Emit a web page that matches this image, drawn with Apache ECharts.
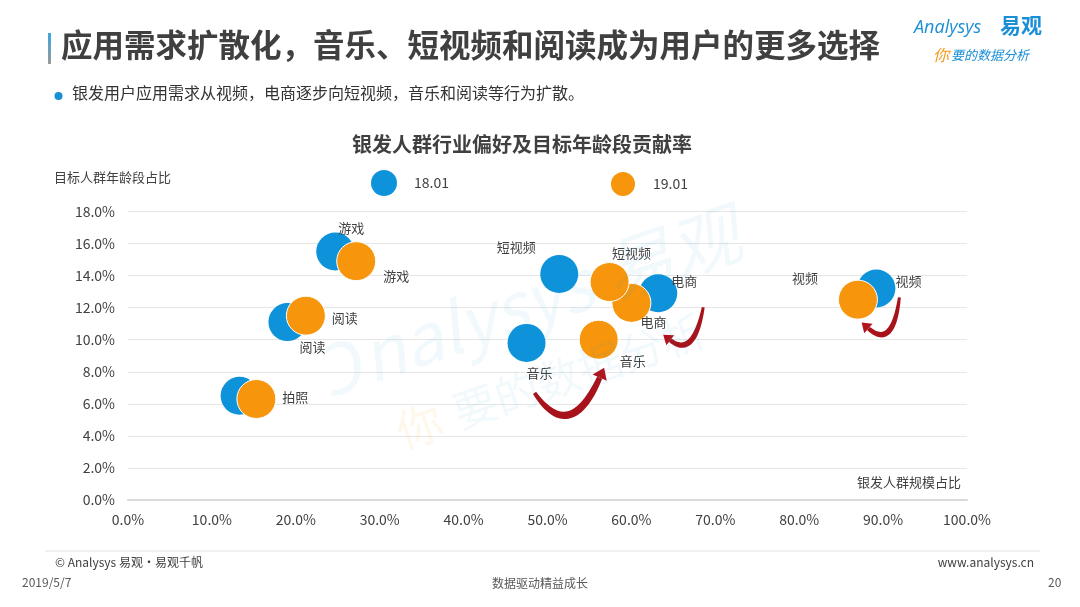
<!DOCTYPE html>
<html>
<head>
<meta charset="utf-8">
<script src="https://cdn.jsdelivr.net/npm/echarts@6/dist/echarts.min.js"></script>
<style>
html,body{margin:0;padding:0;background:#fff;}
#main{width:1080px;height:607px;}
</style>
</head>
<body>
<div id="main"></div>
<script>
// ---- data ----
const categories = ['视频', '电商', '短视频', '音乐', '游戏', '阅读', '拍照'];
const scale18 = [89.2, 63.2, 51.4, 47.5, 24.7, 19.0, 13.3];
const share18 = [13.2, 12.9, 14.1, 9.8, 15.5, 11.1, 6.5];
const scale19 = [87.0, 60.0, 57.4, 56.1, 27.2, 21.2, 15.3];
const share19 = [12.5, 12.3, 13.6, 10.0, 14.9, 11.5, 6.3];
const seriesNames = ['18.01', '19.01'];
const yTicks = [0, 2, 4, 6, 8, 10, 12, 14, 16, 18];
const xTicks = [0, 10, 20, 30, 40, 50, 60, 70, 80, 90, 100];

const FONT = '"Noto Sans CJK SC", "Noto Sans", sans-serif';
const BLUE = '#0e93db';
const ORANGE = '#f7960c';

// label placement (style, per category)
const labelOffset18 = {'视频': [32, -7], '电商': [26, -12], '短视频': [-43, -27], '音乐': [13, 30], '游戏': [16, -24], '阅读': [25, 25], '拍照': null};
const labelOffset19 = {'视频': [-53, -22], '电商': [22, 19], '短视频': [22, -29], '音乐': [34, 21], '游戏': [40, 15], '阅读': [39, 2], '拍照': [39, -2]};

function buildData(xs, ys, offs) {
  return categories.map((c, i) => {
    const o = offs[c];
    return {
      name: c,
      value: [xs[i], ys[i]],
      label: o ? {show: true, offset: o} : {show: false}
    };
  });
}

const chart = echarts.init(document.getElementById('main'));

const labelStyle = {
  show: true, position: 'inside', formatter: '{b}',
  color: '#404040', fontSize: 13, fontFamily: FONT
};

const option = {
  backgroundColor: '#fff',
  animation: false,
  textStyle: {fontFamily: FONT},
  title: {
    text: '银发人群行业偏好及目标年龄段贡献率',
    left: 347, top: 129,
    textStyle: {fontSize: 20, fontWeight: 'bold', color: '#404040', fontFamily: FONT}
  },
  legend: [
    {data: [seriesNames[0]], left: 366, top: 165, icon: 'circle', itemWidth: 26, itemHeight: 26,
     textStyle: {fontSize: 14, color: '#404040', fontFamily: FONT, padding: [0, 0, 0, 12]}},
    {data: [seriesNames[1]], left: 604, top: 165, icon: 'circle', itemWidth: 26, itemHeight: 26,
     textStyle: {fontSize: 14, color: '#404040', fontFamily: FONT, padding: [0, 0, 0, 12]}}
  ],
  grid: {left: 128, right: 113, top: 211.5, bottom: 107, containLabel: false},
  xAxis: {
    type: 'value', min: xTicks[0], max: xTicks[xTicks.length - 1], interval: 10,
    axisLine: {show: true, lineStyle: {color: '#d9d9d9', width: 2}},
    axisTick: {show: false},
    splitLine: {show: false},
    axisLabel: {formatter: v => v.toFixed(1) + '%', color: '#404040', fontSize: 14, margin: 13, fontFamily: FONT}
  },
  yAxis: {
    type: 'value', min: yTicks[0], max: yTicks[yTicks.length - 1], interval: 2,
    axisLine: {show: false},
    axisTick: {show: false},
    splitLine: {lineStyle: {color: '#e6e6e6', width: 1}},
    axisLabel: {formatter: v => v.toFixed(1) + '%', color: '#404040', fontSize: 14, margin: 13, fontFamily: FONT}
  },
  series: [
    {
      name: seriesNames[0], type: 'scatter', symbolSize: 38, z: 2,
      itemStyle: {color: BLUE, opacity: 1},
      label: labelStyle,
      data: buildData(scale18, share18, labelOffset18)
    },
    {
      name: seriesNames[1], type: 'scatter', symbolSize: 39, z: 3,
      itemStyle: {color: ORANGE, borderColor: '#ffffff', borderWidth: 1, opacity: 1},
      label: labelStyle,
      data: buildData(scale19, share19, labelOffset19)
    }
  ]
};

chart.setOption(option);

// ---- annotation arrows, anchored to data points via the axes ----
function px(sIdx, cat) {
  const i = categories.indexOf(cat);
  const xs = sIdx === 0 ? scale18 : scale19;
  const ys = sIdx === 0 ? share18 : share19;
  return chart.convertToPixel({seriesIndex: sIdx}, [xs[i], ys[i]]);
}
function add(p, d) { return [p[0] + d[0], p[1] + d[1]]; }

function arrow(S, M, E, w, head) {
  const C = [2 * M[0] - (S[0] + E[0]) / 2, 2 * M[1] - (S[1] + E[1]) / 2];
  const N = 30, left = [], right = [];
  for (let k = 0; k <= N; k++) {
    const t = k / N;
    const bx = (1 - t) * (1 - t) * S[0] + 2 * (1 - t) * t * C[0] + t * t * E[0];
    const by = (1 - t) * (1 - t) * S[1] + 2 * (1 - t) * t * C[1] + t * t * E[1];
    const dx = 2 * (1 - t) * (C[0] - S[0]) + 2 * t * (E[0] - C[0]);
    const dy = 2 * (1 - t) * (C[1] - S[1]) + 2 * t * (E[1] - C[1]);
    const L = Math.hypot(dx, dy) || 1;
    const nx = -dy / L, ny = dx / L;
    const th = 0.6 + w * Math.sin(Math.PI * (0.15 + 0.6 * t));
    left.push([bx + nx * th / 2, by + ny * th / 2]);
    right.push([bx - nx * th / 2, by - ny * th / 2]);
  }
  const dx = E[0] - C[0], dy = E[1] - C[1];
  const L = Math.hypot(dx, dy) || 1;
  const ux = dx / L, uy = dy / L, nx = -uy, ny = ux;
  const tip = [E[0] + ux * head, E[1] + uy * head];
  const b1 = [E[0] + nx * head * 0.7, E[1] + ny * head * 0.7];
  const b2 = [E[0] - nx * head * 0.7, E[1] - ny * head * 0.7];
  return [
    {type: 'polygon', shape: {points: left.concat(right.reverse())}, style: {fill: '#a8121a'}, z: 10},
    {type: 'polygon', shape: {points: [tip, b1, b2]}, style: {fill: '#b3141b'}, z: 10}
  ];
}

const pMusicB = px(0, '音乐'), pMusicO = px(1, '音乐');
const pShopB = px(0, '电商');
const pVideoB = px(0, '视频');

const arrows = [].concat(
  arrow(add(pMusicB, [8, 50]), add(pMusicB, [42, 72]), add(pMusicO, [1, 38]), 7, 11),
  arrow(add(pShopB, [45, 14]), add(pShopB, [32, 48]), add(pShopB, [12, 47]), 5, 9),
  arrow(add(pVideoB, [23, 9]), add(pVideoB, [12, 43]), add(pVideoB, [-8, 40]), 5, 9)
);

const texts = [
  // left accent bar of title
  {type: 'rect', shape: {x: 48, y: 33, width: 3, height: 31},
   style: {fill: new echarts.graphic.LinearGradient(0, 0, 0, 1, [{offset: 0, color: '#3aa6e0'}, {offset: 1, color: '#9a9a9a'}])}},
  {type: 'text', left: 61, top: 29,
   style: {text: '应用需求扩散化，音乐、短视频和阅读成为用户的更多选择', fill: '#404040', fontSize: 31.5, fontWeight: 'bold', fontFamily: FONT}},
  // logo
  {type: 'text', left: 914, top: 19,
   style: {text: 'Analysys', fill: '#1a8fd6', fontSize: 18, fontStyle: 'italic', fontFamily: '"Open Sans", sans-serif'}},
  {type: 'text', left: 1000, top: 15,
   style: {text: '易观', fill: '#1a8fd6', fontSize: 21, fontWeight: 'bold', fontFamily: FONT}},
  {type: 'text', left: 933, top: 47,
   style: {text: '{a|你}{b|要的数据分析}', fontFamily: FONT, fontStyle: 'italic',
     rich: {a: {fill: '#f39a1c', fontSize: 16, fontStyle: 'italic', fontFamily: FONT}, b: {fill: '#1a8fd6', fontSize: 13, fontStyle: 'italic', fontFamily: FONT, padding: [0, 0, 0, 2]}}}},
  // bullet line
  {type: 'circle', shape: {cx: 58.5, cy: 96, r: 4}, style: {fill: '#1a8fd6'}},
  {type: 'text', left: 72, top: 85,
   style: {text: '银发用户应用需求从视频，电商逐步向短视频，音乐和阅读等行为扩散。', fill: '#333', fontSize: 16, fontFamily: FONT}},
  // axis names
  {type: 'text', left: 54, top: 171,
   style: {text: '目标人群年龄段占比', fill: '#404040', fontSize: 13, fontFamily: FONT}},
  {type: 'text', right: 119, top: 476,
   style: {text: '银发人群规模占比', fill: '#404040', fontSize: 13, fontFamily: FONT}},
  // footer
  {type: 'line', shape: {x1: 45, y1: 551, x2: 1040, y2: 551}, style: {stroke: '#e3e3e3', lineWidth: 1}},
  {type: 'text', left: 55, top: 556,
   style: {text: '© Analysys 易观·易观千帆', fill: '#404040', fontSize: 12, fontFamily: FONT}},
  {type: 'text', right: 46, top: 556,
   style: {text: 'www.analysys.cn', fill: '#404040', fontSize: 12, fontFamily: FONT}},
  {type: 'text', left: 22, top: 576,
   style: {text: '2019/5/7', fill: '#595959', fontSize: 12, fontFamily: FONT}},
  {type: 'text', left: 'center', top: 577,
   style: {text: '数据驱动精益成长', fill: '#595959', fontSize: 12, fontFamily: FONT}},
  {type: 'text', left: 1048, top: 576,
   style: {text: '20', fill: '#595959', fontSize: 12, fontFamily: FONT}},
  // watermark
  {type: 'text', x: 335, y: 405, rotation: 0.33, z: 20,
   style: {text: 'Ͻnalysys 易观', fill: 'rgba(20,150,220,0.06)', fontSize: 70, fontStyle: 'italic', fontFamily: FONT, textVerticalAlign: 'bottom'}},
  {type: 'text', x: 405, y: 455, rotation: 0.33, z: 20,
   style: {text: '{a|你}{b|要的数据分析}', textVerticalAlign: 'bottom',
     rich: {a: {fill: 'rgba(247,150,12,0.08)', fontSize: 46, fontFamily: FONT}, b: {fill: 'rgba(20,150,220,0.06)', fontSize: 44, fontFamily: FONT, padding: [0, 0, 0, 14]}}}}
];

chart.setOption({graphic: texts.concat(arrows)});
</script>
</body>
</html>
